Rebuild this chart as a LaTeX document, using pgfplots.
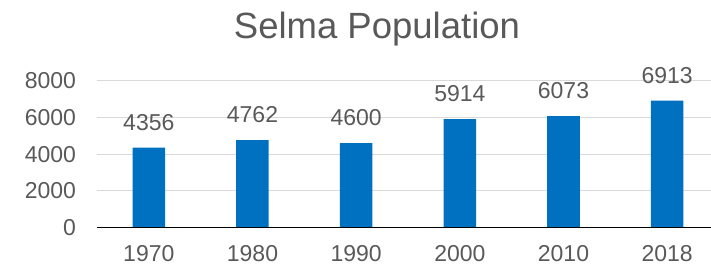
\documentclass[border=0pt]{standalone}
\usepackage{pgfplots}
\pgfplotsset{compat=1.18}
\usepackage{fontspec}
\setmainfont{Liberation Sans}
\definecolor{barblue}{HTML}{0070C0}
\definecolor{txtgray}{HTML}{595959}
\definecolor{gridgray}{HTML}{D9D9D9}
\begin{document}
\begin{tikzpicture}
\useasboundingbox (-97bp,-39.3bp) rectangle (614bp,227.7bp);
\begin{axis}[
  at={(0,0)}, anchor=south west,
  scale only axis, width=622bp, height=147bp,
  xmin=-0.5, xmax=5.5, ymin=0, ymax=8000,
  xtick=data, xticklabels={1970,1980,1990,2000,2010,2018},
  ytick={0,2000,4000,6000,8000},
  scaled y ticks=false,
  /pgf/number format/assume math mode=true,
  yticklabel style={/pgf/number format/fixed, /pgf/number format/1000 sep={}},
  tick label style={font=\fontsize{23bp}{27bp}\selectfont, text=txtgray},
  xticklabel style={yshift=-16.5bp, inner sep=1bp},
  yticklabel style={xshift=-17.5bp},
  major tick length=0pt,
  axis line style={draw=none},
  axis x line*=bottom, axis y line*=left,
  ymajorgrids, grid style={gridgray, line width=1bp},
  clip=false,
  every axis title shift=0pt,
  title={Selma Population},
  title style={font=\fontsize{36.5bp}{42bp}\selectfont, text=txtgray, at={(0.5,1)}, anchor=base, yshift=42.4bp, xshift=-31bp},
]
\addplot[ybar, bar width=32.5bp, fill=barblue, draw=none,
  nodes near coords, every node near coord/.append style={font=\fontsize{23bp}{27bp}\selectfont, text=txtgray, yshift=13.5bp},
  point meta=explicit symbolic]
  coordinates {(0,4356)[4356] (1,4762)[4762] (2,4600)[4600] (3,5914)[5914] (4,6073)[6073] (5,6913)[6913]};
\draw[black, line width=1.3bp] (axis cs:-0.5,0) -- (axis cs:5.5,0);
\end{axis}
\end{tikzpicture}
\end{document}
